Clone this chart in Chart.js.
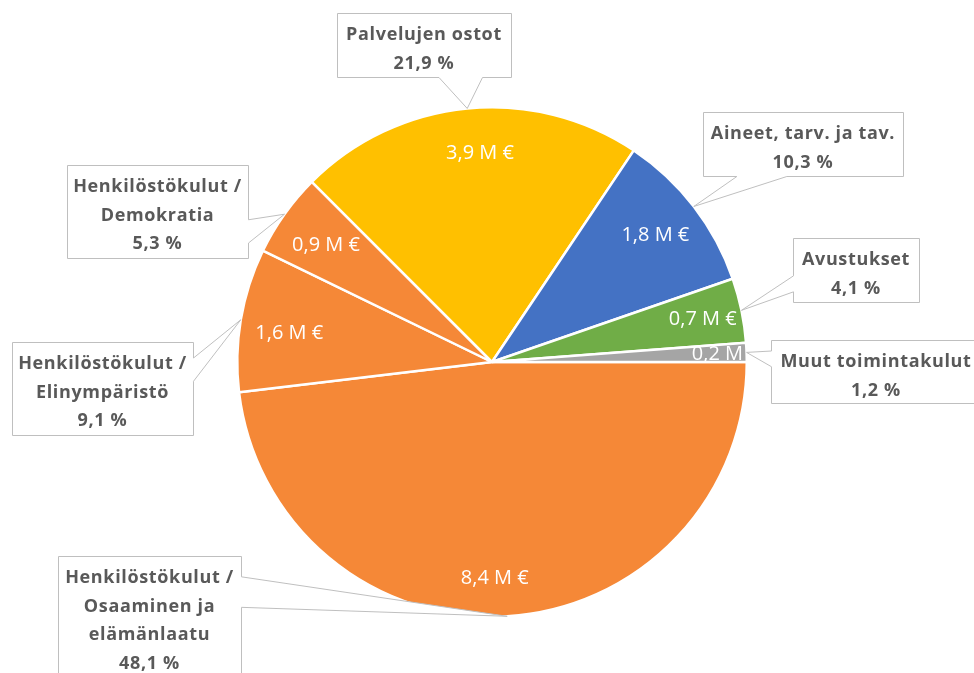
<!DOCTYPE html>
<html>
<head>
<meta charset="utf-8">
<script src="https://cdn.jsdelivr.net/npm/chart.js@4.4.1/dist/chart.umd.min.js"></script>
<style>
  html, body { margin: 0; padding: 0; background: #fff; }
  canvas { display: block; }
</style>
</head>
<body>
<canvas id="kulut" width="974" height="673"></canvas>
<script>
// data (clockwise from 3 o'clock)
const categories = [
    ['Henkilöstökulut /', 'Osaaminen ja', 'elämänlaatu'],
    ['Henkilöstökulut /', 'Elinympäristö'],
    ['Henkilöstökulut /', 'Demokratia'],
    ['Palvelujen ostot'],
    ['Aineet, tarv. ja tav.'],
    ['Avustukset'],
    ['Muut toimintakulut']
];
const shares = [48.1, 9.1, 5.3, 21.9, 10.3, 4.1, 1.2];     // %
const amounts = [8.4, 1.6, 0.9, 3.9, 1.8, 0.7, 0.2];        // M €

const sliceColors = ['#F58837', '#F58837', '#F58837', '#FFC000', '#4472C4', '#70AD47', '#A5A5A5'];

// callout boxes (left, top, width, height) and where the value label sits
const calloutBoxes = [
    { x: 58, y: 556, w: 183, h: 122 },
    { x: 12, y: 342, w: 181, h: 93 },
    { x: 67, y: 165, w: 181, h: 93 },
    { x: 337, y: 13, w: 174, h: 64 },
    { x: 703, y: 112, w: 200, h: 64 },
    { x: 793, y: 238, w: 126, h: 64 },
    { x: 771, y: 340, w: 210, h: 63 }
];
const labelRadius = [0.845, 0.805, 0.80, 0.825, 0.815, 0.845, 0.918];
const labelTurn = [2.7, -1, 0, 2.3, -0.5, 0, 0];   // degrees off the slice middle

const fmt = v => v.toFixed(1).replace('.', ',');

function drawCallout(ctx, b, tip) {
    const L = b.x + 0.5, T = b.y + 0.5, R = b.x + b.w + 0.5, B = b.y + b.h + 0.5;
    const cx = b.x + b.w / 2, cy = b.y + b.h / 2;
    const dxn = (tip.x - cx) / b.w, dyn = (tip.y - cy) / b.h;
    const xa = L + b.w * (dxn > 0 ? 7 : 2) / 12, xb = L + b.w * (dxn > 0 ? 10 : 5) / 12;
    const ya = T + b.h * (dyn > 0 ? 7 : 2) / 12, yb = T + b.h * (dyn > 0 ? 10 : 5) / 12;
    const vert = Math.abs(dyn) > Math.abs(dxn);

    ctx.beginPath();
    ctx.moveTo(L, T);
    if (vert && dyn < 0) { ctx.lineTo(xa, T); ctx.lineTo(tip.x, tip.y); ctx.lineTo(xb, T); }
    ctx.lineTo(R, T);
    if (!vert && dxn > 0) { ctx.lineTo(R, ya); ctx.lineTo(tip.x, tip.y); ctx.lineTo(R, yb); }
    ctx.lineTo(R, B);
    if (vert && dyn > 0) { ctx.lineTo(xb, B); ctx.lineTo(tip.x, tip.y); ctx.lineTo(xa, B); }
    ctx.lineTo(L, B);
    if (!vert && dxn <= 0) { ctx.lineTo(L, yb); ctx.lineTo(tip.x, tip.y); ctx.lineTo(L, ya); }
    ctx.closePath();
    ctx.fillStyle = '#fff';
    ctx.fill();
    ctx.strokeStyle = '#BFBFBF';
    ctx.lineWidth = 1;
    ctx.stroke();
}

const labelsPlugin = {
    id: 'labels',
    afterDatasetsDraw(chart) {
        const ctx = chart.ctx;
        const arcs = chart.getDatasetMeta(0).data;
        ctx.save();

        // value labels inside the slices
        ctx.font = '20px "Open Sans"';
        ctx.fillStyle = '#fff';
        ctx.textAlign = 'center';
        ctx.textBaseline = 'alphabetic';
        arcs.forEach((arc, i) => {
            const p = arc.getProps(['x', 'y', 'startAngle', 'endAngle', 'outerRadius'], true);
            const a = (p.startAngle + p.endAngle) / 2 + labelTurn[i] * Math.PI / 180;
            const r = p.outerRadius * labelRadius[i];
            ctx.fillText(fmt(amounts[i]) + ' M €', p.x + Math.cos(a) * r, p.y + Math.sin(a) * r + 7);
        });

        // callouts with category and share
        arcs.forEach((arc, i) => {
            const p = arc.getProps(['x', 'y', 'startAngle', 'endAngle', 'outerRadius'], true);
            const mid = (p.startAngle + p.endAngle) / 2;
            const tip = { x: p.x + Math.cos(mid) * p.outerRadius, y: p.y + Math.sin(mid) * p.outerRadius };
            const b = calloutBoxes[i];
            drawCallout(ctx, b, tip);

            const lines = categories[i].concat([fmt(shares[i]) + ' %']);
            ctx.font = 'bold 18px "Open Sans"';
            ctx.letterSpacing = '0.65px';
            ctx.fillStyle = '#595959';
            ctx.textAlign = 'center';
            ctx.textBaseline = 'alphabetic';
            lines.forEach((t, k) => {
                ctx.fillText(t, b.x + b.w / 2, b.y + 20.5 + k * 28.5 + 6.5);
            });
            ctx.letterSpacing = '0px';
        });
        ctx.restore();
    }
};

new Chart(document.getElementById('kulut'), {
    type: 'pie',
    data: {
        labels: categories.map(c => c.join(' ')),
        datasets: [{
            data: shares,
            backgroundColor: sliceColors,
            borderColor: '#fff',
            borderWidth: 2.5
        }]
    },
    options: {
        responsive: false,
        animation: false,
        rotation: 90,
        layout: { padding: { left: 236, right: 226, top: 106, bottom: 55 } },
        plugins: {
            legend: { display: false },
            tooltip: { enabled: false }
        }
    },
    plugins: [labelsPlugin]
});
</script>
</body>
</html>
